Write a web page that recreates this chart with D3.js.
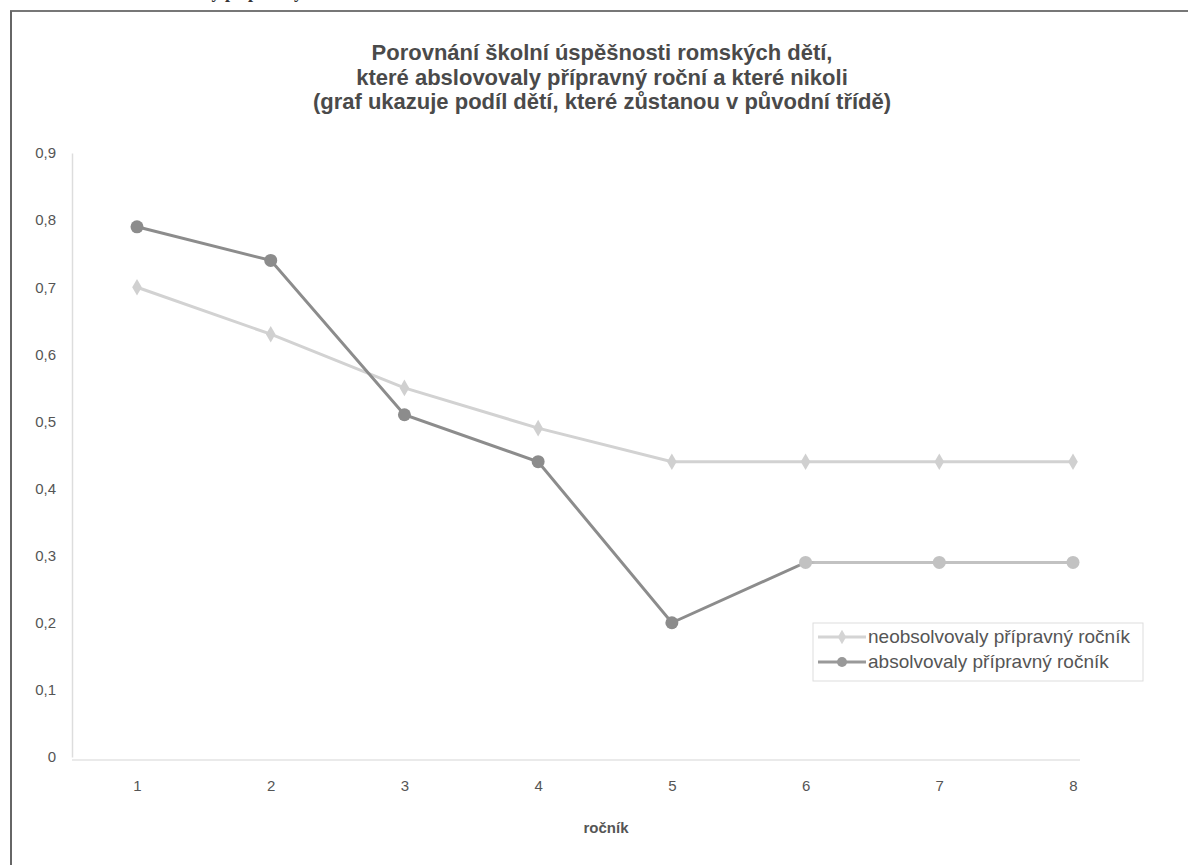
<!DOCTYPE html>
<html><head><meta charset="utf-8">
<script src="https://cdn.jsdelivr.net/npm/d3@7"></script>
<style>
html,body{margin:0;padding:0;background:#fff;}
svg{display:block;font-family:"Liberation Sans",Arial,sans-serif;}
</style></head>
<body><svg id="c" width="1188" height="865"></svg>
<script>
const categories = [1,2,3,4,5,6,7,8];
const neobsolvovaly = [0.70,0.63,0.55,0.49,0.44,0.44,0.44,0.44];
const absolvovaly = [0.79,0.74,0.51,0.44,0.20,0.29,0.29,0.29];
const yTicks = [0,0.1,0.2,0.3,0.4,0.5,0.6,0.7,0.8,0.9];
const titleLines = ["Porovnání školní úspěšnosti romských dětí,","které abslovovaly přípravný roční a které nikoli","(graf ukazuje podíl dětí, které zůstanou v původní třídě)"];
const seriesNames = ["neobsolvovaly přípravný ročník","absolvovaly přípravný ročník"];

const svg = d3.select("#c");
// frame (page scan)
svg.append("text").attr("x",40).attr("y",-2).attr("font-family","Liberation Serif,serif").attr("font-weight","bold")
  .attr("font-size",18).attr("fill","#333").text("Vzdělávání absolvovaly přípravný ročník");
svg.append("line").attr("x1",10).attr("x2",1188).attr("y1",11).attr("y2",11).attr("stroke","#777").attr("stroke-width",2);
svg.append("line").attr("x1",11).attr("x2",11).attr("y1",11).attr("y2",865).attr("stroke","#666").attr("stroke-width",2);

const x = d3.scalePoint().domain(categories).range([137,1073]);
const y = d3.scaleLinear().domain([0,0.9]).range([757,153]);

// title
svg.append("g").selectAll("text").data(titleLines).join("text")
  .attr("x",602).attr("y",(d,i)=>60+i*24.5).attr("text-anchor","middle")
  .attr("font-weight","bold").attr("font-size",22).attr("fill","#4a4a4a").text(d=>d);

// axes
const yAxis = svg.append("g").attr("transform","translate(72,0)")
  .call(d3.axisLeft(y).tickValues(yTicks).tickSize(0).tickPadding(16).tickFormat(d=>d3.format(".1f")(d).replace(".",",").replace(/^0,0$/,"0")));
yAxis.select(".domain").attr("stroke","#ddd").attr("stroke-width",1.5);
yAxis.selectAll("text").attr("font-size",15).attr("fill","#555").attr("font-family","Liberation Sans,Arial,sans-serif");

const xAxis = svg.append("g").attr("transform","translate(0,760)")
  .call(d3.axisBottom(x).tickSize(0).tickPadding(20));
xAxis.select(".domain").attr("d","M72,0H1080").attr("stroke","#e3e3e3").attr("stroke-width",1.5);
xAxis.selectAll("text").attr("font-size",15).attr("fill","#555").attr("font-family","Liberation Sans,Arial,sans-serif");

svg.append("text").attr("x",606).attr("y",833).attr("text-anchor","middle").attr("font-weight","bold")
  .attr("font-size",15).attr("fill","#555").text("ročník");

// gradient for scan-faded dark series tail
const defs = svg.append("defs");
const gr = defs.append("linearGradient").attr("id","gd").attr("gradientUnits","userSpaceOnUse")
  .attr("x1",x(1)).attr("x2",x(8)).attr("y1",0).attr("y2",0);
const f = (x(6)-x(1))/(x(8)-x(1));
gr.append("stop").attr("offset",0).attr("stop-color","#8c8c8c");
gr.append("stop").attr("offset",f-0.01).attr("stop-color","#8c8c8c");
gr.append("stop").attr("offset",f+0.01).attr("stop-color","#c2c2c2");
gr.append("stop").attr("offset",1).attr("stop-color","#c2c2c2");

const line = d3.line().x((d,i)=>x(categories[i])).y(d=>y(d));
svg.append("path").datum(neobsolvovaly).attr("d",line).attr("fill","none").attr("stroke","#d2d2d2").attr("stroke-width",3);
svg.append("g").selectAll("path").data(neobsolvovaly).join("path")
  .attr("transform",(d,i)=>`translate(${x(categories[i])},${y(d)})`)
  .attr("d",d3.symbol(d3.symbolDiamond,80)).attr("fill","#d0d0d0");

svg.append("path").datum(absolvovaly).attr("d",line).attr("fill","none").attr("stroke","url(#gd)").attr("stroke-width",3);
svg.append("g").selectAll("circle").data(absolvovaly).join("circle")
  .attr("cx",(d,i)=>x(categories[i])).attr("cy",d=>y(d)).attr("r",6.5)
  .attr("fill",(d,i)=>i>=5?"#c2c2c2":"#8c8c8c");

// legend
const lg = svg.append("g");
lg.append("rect").attr("x",813).attr("y",623).attr("width",330).attr("height",58).attr("fill","#fff").attr("stroke","#ddd");
const cols = ["#d4d4d4","#999"];
seriesNames.forEach((n,i)=>{
  const yy = 637+i*25;
  lg.append("line").attr("x1",818).attr("x2",866).attr("y1",yy).attr("y2",yy).attr("stroke",cols[i]).attr("stroke-width",3);
  if(i===0) lg.append("path").attr("transform",`translate(842,${yy})`).attr("d",d3.symbol(d3.symbolDiamond,60)).attr("fill",cols[i]);
  else lg.append("circle").attr("cx",842).attr("cy",yy).attr("r",5).attr("fill",cols[i]);
  lg.append("text").attr("x",868).attr("y",yy+6).attr("font-size",19).attr("fill","#555").text(n);
});
</script></body></html>
